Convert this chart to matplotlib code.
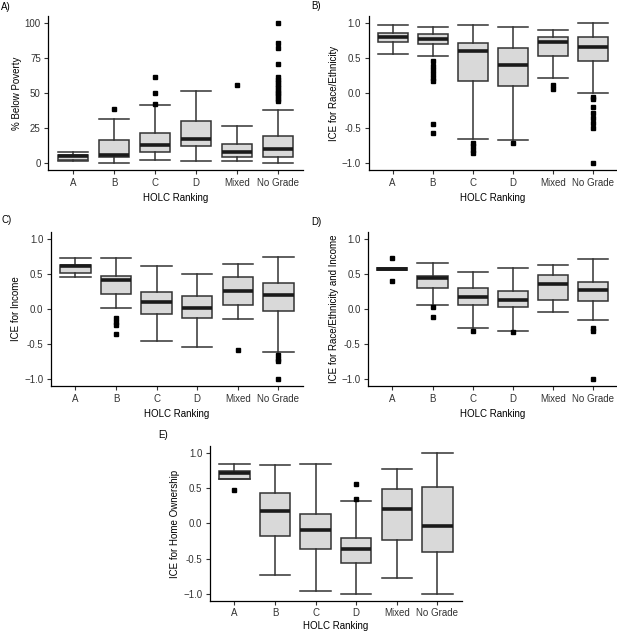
import matplotlib
matplotlib.use("Agg")
import matplotlib.pyplot as plt

plt.rcParams['font.family'] = ['Liberation Sans', 'DejaVu Sans']

# Categories
grades = ["A", "B", "C", "D", "Mixed", "No Grade"]

# Panel A: % below poverty
pov_q1 = [2.1, 4.5, 8.3, 12.3, 4.3, 4.7]
pov_med = [5.0, 5.8, 13.0, 17.1, 8.3, 10.2]
pov_q3 = [5.7, 16.6, 21.8, 30.2, 14.0, 19.7]
pov_lo = [1.5, 0.4, 2.6, 1.9, 1.4, 0.0]
pov_hi = [7.9, 31.5, 41.3, 51.3, 26.8, 38.2]
pov_out = [[], [38.4], [41.9, 50.2, 61.6], [], [55.4],
           [44.5, 46, 47.5, 49, 50.5, 52, 54, 56, 58, 59.5, 61, 70.3, 82.2, 85.7, 100]]

# Panel B: ICE for race/ethnicity
race_q1 = [0.72, 0.697, 0.166, 0.104, 0.526, 0.46]
race_med = [0.796, 0.763, 0.597, 0.398, 0.72, 0.654]
race_q3 = [0.853, 0.834, 0.716, 0.64, 0.80, 0.80]
race_lo = [0.55, 0.521, -0.654, -0.673, 0.218, 0.0]
race_hi = [0.967, 0.938, 0.97, 0.934, 0.90, 1.0]
race_out = [[], [0.45, 0.39, 0.327, 0.27, 0.213, 0.17, -0.44, -0.57],
            [-0.715, -0.76, -0.81, -0.858], [-0.715], [0.114, 0.052],
            [-0.05, -0.09, -0.2, -0.28, -0.35, -0.42, -0.5, -1.0]]

# Panel C: ICE for income
inc_q1 = [0.517, 0.218, -0.071, -0.133, 0.057, -0.03]
inc_med = [0.61, 0.41, 0.095, 0.014, 0.256, 0.2]
inc_q3 = [0.626, 0.469, 0.246, 0.19, 0.45, 0.365]
inc_lo = [0.46, 0.014, -0.45, -0.536, -0.137, -0.616]
inc_hi = [0.73, 0.72, 0.616, 0.493, 0.645, 0.74]
inc_out = [[], [-0.13, -0.18, -0.23, -0.35], [], [], [-0.588],
           [-0.654, -0.71, -0.74, -1.0]]

# Panel D: ICE for race/ethnicity and income
ri_q1 = [0.55, 0.294, 0.057, 0.024, 0.123, 0.114]
ri_med = [0.57, 0.436, 0.175, 0.128, 0.35, 0.265]
ri_q3 = [0.585, 0.469, 0.299, 0.25, 0.478, 0.389]
ri_lo = [0.55, 0.057, -0.275, -0.308, -0.038, -0.15]
ri_hi = [0.585, 0.65, 0.53, 0.583, 0.62, 0.71]
ri_out = [[0.72, 0.393], [0.033, -0.11], [-0.32], [-0.33], [],
          [-0.275, -0.32, -1.0]]

# Panel E: ICE for home ownership
home_q1 = [0.636, -0.177, -0.362, -0.57, -0.239, -0.404]
home_med = [0.72, 0.177, -0.087, -0.366, 0.206, -0.04]
home_q3 = [0.745, 0.428, 0.14, -0.21, 0.489, 0.52]
home_lo = [0.636, -0.73, -0.957, -1.0, -0.78, -1.0]
home_hi = [0.853, 0.83, 0.853, 0.314, 0.778, 1.0]
home_out = [[0.47], [], [], [0.343, 0.56], [], []]

W, H = 617, 634
fig = plt.figure(figsize=(W / 100, H / 100), dpi=100)


def make_ax(left, right, top, bottom):
    return fig.add_axes([left / W, 1 - bottom / H, (right - left) / W, (bottom - top) / H])


def draw(ax, q1, med, q3, lo, hi, out, ylabel, ylim, yticks, yticklabels, xpad=4):
    stats = []
    for i in range(len(grades)):
        stats.append(dict(q1=q1[i], med=med[i], q3=q3[i], whislo=lo[i],
                          whishi=hi[i], fliers=out[i]))
    ax.bxp(stats, positions=range(1, 7), widths=0.75, patch_artist=True,
           showfliers=True, capwidths=0.75,
           boxprops=dict(facecolor='#d9d9d9', edgecolor='#333333', linewidth=1.1),
           medianprops=dict(color='#1a1a1a', linewidth=2.6, solid_capstyle='butt'),
           whiskerprops=dict(color='#333333', linewidth=1.1),
           capprops=dict(color='#333333', linewidth=1.1),
           flierprops=dict(marker='s', markersize=3.3, markerfacecolor='black',
                           markeredgecolor='black', linestyle='none'))
    ax.set_xlim(0.4, 6.6)
    ax.set_ylim(*ylim)
    ax.set_xticks(range(1, 7))
    ax.set_xticklabels(grades)
    ax.set_yticks(yticks)
    ax.set_yticklabels(yticklabels)
    ax.spines['top'].set_visible(False)
    ax.spines['right'].set_visible(False)
    for s in ['left', 'bottom']:
        ax.spines[s].set_linewidth(0.9)
        ax.spines[s].set_color('black')
    ax.tick_params(labelsize=7, length=3, width=0.8, pad=2.5, colors='#333333',
                   labelcolor='#333333')
    ax.set_xlabel("HOLC Ranking", fontsize=7, labelpad=xpad)
    ax.set_ylabel(ylabel, fontsize=7, labelpad=2)


ice_ticks = [-1.0, -0.5, 0.0, 0.5, 1.0]
ice_labels = ["\u22121.0", "-0.5", "0.0", "0.5", "1.0"]

axA = make_ax(48.4, 302.6, 15.6, 170.3)
draw(axA, pov_q1, pov_med, pov_q3, pov_lo, pov_hi, pov_out, "% Below Poverty",
     (-5, 105), [0, 25, 50, 75, 100], ["0", "25", "50", "75", "100"])

axB = make_ax(368.6, 617.4, 15.7, 170.3)
draw(axB, race_q1, race_med, race_q3, race_lo, race_hi, race_out,
     "ICE for Race/Ethnicity", (-1.1, 1.1), ice_ticks, ice_labels)

axC = make_ax(51, 302.7, 231.7, 386.3)
draw(axC, inc_q1, inc_med, inc_q3, inc_lo, inc_hi, inc_out,
     "ICE for Income", (-1.1, 1.1), ice_ticks, ice_labels)

axD = make_ax(368.2, 617.4, 231.7, 386.3)
draw(axD, ri_q1, ri_med, ri_q3, ri_lo, ri_hi, ri_out,
     "ICE for Race/Ethnicity and Income", (-1.1, 1.1), ice_ticks, ice_labels)

axE = make_ax(210, 461.7, 446.2, 600.7)
draw(axE, home_q1, home_med, home_q3, home_lo, home_hi, home_out,
     "ICE for Home Ownership", (-1.1, 1.1), ice_ticks, ice_labels, xpad=2)

# panel tags
for tag, x, y in [("A)", 1, 7), ("B)", 311, 6), ("C)", 1, 220), ("D)", 311, 222), ("E)", 158, 435)]:
    fig.text(x / W, 1 - y / H, tag, fontsize=7, va='center', ha='left')

fig.savefig("out.png", dpi=100)
